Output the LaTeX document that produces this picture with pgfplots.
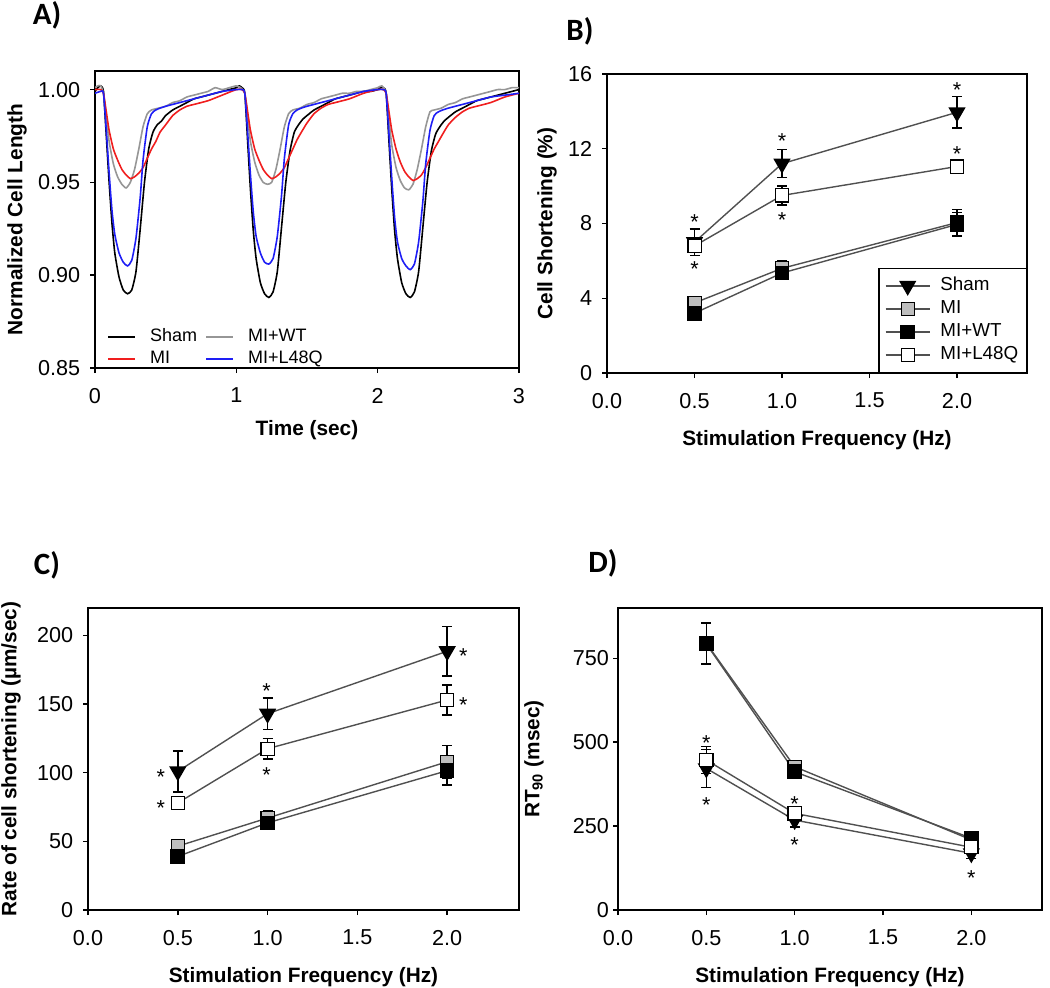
\documentclass[border=0pt]{standalone}
\usepackage{fontspec}
\setmainfont{Liberation Sans}
\newfontfamily\calib{Carlito}
\usepackage{pgfplots}
\pgfplotsset{compat=1.18}
\definecolor{mired}{RGB}{240,30,30}
\definecolor{wtgray}{RGB}{150,150,150}
\definecolor{lqblue}{RGB}{30,30,245}
\definecolor{migray}{RGB}{190,190,190}
\definecolor{conn}{RGB}{80,80,80}
\pgfplotsset{
  common/.style={
    scale only axis, anchor=south west,
    axis line style={line width=0.75pt},
    every tick/.style={black, line width=0.75pt},
    tick align=outside, major tick length=2.5pt,
    xtick pos=bottom, ytick pos=left,
    /pgf/number format/assume math mode=true,
    tick label style={font=\fontsize{10.8}{12}\selectfont},
    xticklabel style={yshift=-4pt},
    label style={font=\fontsize{10.4}{12}\selectfont\bfseries},
  },
  freq/.style={
    common, xmin=0, xmax=2.4, xtick={0,0.5,1,1.5,2},
    xticklabel style={/pgf/number format/.cd, fixed, fixed zerofill, precision=1},
    xlabel={Stimulation Frequency (Hz)},
    xlabel style={at={(axis description cs:0.5,0)}, anchor=center, yshift=-33.5pt},
    legend image code/.code={\draw[mark repeat=2,mark phase=2] plot coordinates {(0pt,0pt) (11pt,0pt) (22pt,0pt)};},
  },
  ser/.style={conn, line width=0.7pt,
    error bars/y dir=both, error bars/y explicit,
    error bars/error bar style={line width=0.75pt, black},
    error bars/error mark options={rotate=90, mark size=2.5pt, line width=0.75pt, black}},
  sham/.style={ser, mark=triangle*, mark size=4.3pt, mark options={rotate=180, fill=black, draw=black, solid}},
  mi/.style={ser, mark=square*, mark size=3.3pt, mark options={fill=migray, draw=black, line width=0.6pt}},
  miwt/.style={ser, mark=square*, mark size=3.3pt, mark options={fill=black, draw=black}},
  milq/.style={ser, mark=square*, mark size=3.3pt, mark options={fill=white, draw=black, line width=0.6pt}},
  star/.style={only marks, mark=text, text mark={*}, text mark as node=true,
    text mark style={font=\fontsize{10.8}{12}\selectfont, yshift=-2.3pt, inner sep=0pt}, black, forget plot},
}
\begin{document}
\begin{tikzpicture}
\path[use as bounding box] (0,0) rectangle (525pt,493.5pt);
\node[font=\calib\bfseries\fontsize{15.5}{16}\selectfont] at (23.5pt,486pt) {A)};
\node[font=\calib\bfseries\fontsize{15.5}{16}\selectfont] at (290pt,478pt) {B)};
\node[font=\calib\bfseries\fontsize{15.5}{16}\selectfont] at (23.5pt,211pt) {C)};
\node[font=\calib\bfseries\fontsize{15.5}{16}\selectfont] at (301.5pt,212pt) {D)};

% ---------------- Panel A ----------------
\begin{axis}[common, at={(47.5pt,309.5pt)}, width=212pt, height=148.5pt,
  xmin=0, xmax=3, ymin=0.85, ymax=1.01,
  xtick={0,1,2,3}, ytick={0.85,0.90,0.95,1.00},
  yticklabel style={/pgf/number format/.cd, fixed, fixed zerofill, precision=2, /tikz/xshift=-1.4pt},
  xlabel={Time (sec)},
  xlabel style={at={(axis description cs:0.5,0)}, anchor=center, yshift=-31pt},
  ylabel={Normalized Cell Length},
  ylabel style={at={(axis description cs:-0.184,0.5)}, anchor=center},
  legend columns=2,
  legend image code/.code={\draw[line width=0.9pt] (0pt,0pt) -- (13.5pt,0pt);},
  legend style={at={(axis description cs:0,0)}, anchor=south west, xshift=3pt, yshift=-3pt,
    draw=none, fill=none, font=\fontsize{9}{10}\selectfont,
    nodes={inner sep=1pt, text height=7pt, text depth=2pt, anchor=west},
    /tikz/every even column/.append style={column sep=3pt},
    /tikz/every odd column/.append style={column sep=6pt},
    row sep=0pt},
  every axis plot/.append style={line width=0.8pt, smooth, tension=0.35},
]
\addplot[color=black] coordinates {(0.00,0.999)(0.02,1.001)(0.04,1.002)(0.06,0.999)(0.08,0.975)(0.10,0.950)(0.12,0.928)(0.14,0.912)(0.17,0.899)(0.20,0.892)(0.23,0.890)(0.26,0.892)(0.29,0.902)(0.32,0.925)(0.35,0.950)(0.38,0.968)(0.41,0.977)(0.44,0.981)(0.47,0.983)(0.50,0.986)(0.55,0.989)(0.60,0.991)(0.65,0.993)(0.70,0.995)(0.75,0.996)(0.80,0.997)(0.85,0.998)(0.90,0.999)(0.95,1.000)(1.00,1.001)(1.02,1.002)(1.04,1.001)
(1.06,0.998)(1.08,0.972)(1.10,0.946)(1.12,0.924)(1.14,0.909)(1.17,0.896)(1.20,0.890)(1.23,0.888)(1.26,0.891)(1.29,0.902)(1.32,0.926)(1.35,0.950)(1.38,0.967)(1.41,0.977)(1.44,0.981)(1.47,0.984)(1.50,0.986)(1.55,0.989)(1.60,0.991)(1.65,0.993)(1.70,0.995)(1.75,0.996)(1.80,0.997)(1.85,0.998)(1.90,0.999)(1.95,0.999)(2.00,1.000)(2.02,1.001)(2.04,1.001)
(2.06,0.998)(2.08,0.972)(2.10,0.946)(2.12,0.924)(2.14,0.909)(2.17,0.896)(2.20,0.890)(2.23,0.888)(2.26,0.891)(2.29,0.902)(2.32,0.926)(2.35,0.950)(2.38,0.967)(2.41,0.976)(2.44,0.980)(2.47,0.983)(2.50,0.985)(2.55,0.988)(2.60,0.990)(2.65,0.992)(2.70,0.994)(2.75,0.995)(2.80,0.996)(2.85,0.997)(2.90,0.998)(2.95,0.999)(3.00,1.000)};
\addlegendentry{Sham}
\addplot[color=wtgray] coordinates {(0.00,1.001)(0.02,1.002)(0.04,1.002)(0.06,0.998)(0.08,0.985)(0.10,0.972)(0.13,0.960)(0.16,0.953)(0.19,0.949)(0.22,0.947)(0.25,0.950)(0.28,0.957)(0.31,0.968)(0.34,0.980)(0.37,0.987)(0.40,0.989)(0.45,0.990)(0.50,0.991)(0.55,0.993)(0.60,0.994)(0.65,0.996)(0.70,0.997)(0.75,0.998)(0.80,0.999)(0.85,1.001)(0.90,1.000)(0.95,1.001)(1.00,1.002)(1.03,1.001)
(1.06,0.998)(1.08,0.985)(1.10,0.972)(1.13,0.961)(1.16,0.954)(1.19,0.950)(1.22,0.949)(1.25,0.950)(1.28,0.957)(1.31,0.968)(1.34,0.980)(1.37,0.987)(1.40,0.989)(1.45,0.990)(1.50,0.992)(1.55,0.993)(1.60,0.995)(1.65,0.996)(1.70,0.997)(1.75,0.998)(1.80,0.998)(1.85,0.999)(1.90,0.999)(1.95,1.000)(2.00,1.001)(2.03,1.002)
(2.06,0.998)(2.08,0.984)(2.10,0.970)(2.13,0.958)(2.16,0.951)(2.19,0.947)(2.22,0.946)(2.25,0.949)(2.28,0.957)(2.31,0.968)(2.34,0.980)(2.37,0.988)(2.40,0.989)(2.45,0.990)(2.50,0.992)(2.55,0.993)(2.60,0.995)(2.65,0.996)(2.70,0.997)(2.75,0.998)(2.80,0.999)(2.85,1.000)(2.90,1.000)(2.95,1.001)(3.00,1.001)};
\addlegendentry{MI+WT}
\addplot[color=mired] coordinates {(0.00,1.000)(0.04,1.000)(0.06,0.998)(0.08,0.988)(0.10,0.978)(0.13,0.968)(0.16,0.962)(0.19,0.957)(0.22,0.954)(0.25,0.952)(0.28,0.953)(0.31,0.955)(0.34,0.958)(0.37,0.963)(0.40,0.968)(0.43,0.972)(0.46,0.977)(0.50,0.981)(0.55,0.986)(0.60,0.989)(0.65,0.991)(0.70,0.992)(0.80,0.994)(0.90,0.997)(1.00,1.000)(1.04,1.000)
(1.06,0.998)(1.08,0.988)(1.10,0.978)(1.13,0.968)(1.16,0.962)(1.19,0.957)(1.22,0.954)(1.25,0.952)(1.28,0.953)(1.31,0.955)(1.34,0.958)(1.37,0.963)(1.40,0.968)(1.43,0.973)(1.46,0.977)(1.50,0.982)(1.55,0.987)(1.60,0.990)(1.65,0.992)(1.70,0.993)(1.80,0.995)(1.90,0.998)(2.00,1.000)(2.04,1.000)
(2.06,0.998)(2.08,0.988)(2.10,0.978)(2.13,0.968)(2.16,0.961)(2.19,0.956)(2.22,0.953)(2.25,0.951)(2.28,0.952)(2.31,0.954)(2.34,0.958)(2.37,0.963)(2.40,0.968)(2.43,0.972)(2.46,0.976)(2.50,0.981)(2.55,0.985)(2.60,0.988)(2.65,0.990)(2.70,0.991)(2.80,0.993)(2.90,0.996)(3.00,0.998)};
\addlegendentry{MI}
\addplot[color=lqblue] coordinates {(0.00,0.998)(0.04,0.999)(0.06,0.998)(0.08,0.978)(0.10,0.955)(0.12,0.935)(0.14,0.922)(0.17,0.912)(0.20,0.907)(0.23,0.905)(0.26,0.908)(0.29,0.920)(0.32,0.942)(0.34,0.962)(0.37,0.980)(0.40,0.987)(0.43,0.989)(0.46,0.990)(0.50,0.991)(0.60,0.993)(0.70,0.995)(0.80,0.997)(0.90,0.999)(1.00,1.000)(1.04,1.000)
(1.06,0.998)(1.08,0.977)(1.10,0.954)(1.12,0.934)(1.14,0.921)(1.17,0.912)(1.20,0.907)(1.23,0.906)(1.26,0.909)(1.29,0.921)(1.32,0.943)(1.34,0.963)(1.37,0.981)(1.40,0.987)(1.43,0.989)(1.46,0.990)(1.50,0.991)(1.60,0.993)(1.70,0.995)(1.80,0.997)(1.90,0.999)(2.00,1.000)(2.04,1.000)
(2.06,0.998)(2.08,0.976)(2.10,0.952)(2.12,0.931)(2.14,0.918)(2.17,0.909)(2.20,0.905)(2.23,0.903)(2.26,0.906)(2.29,0.918)(2.32,0.940)(2.34,0.960)(2.37,0.978)(2.40,0.986)(2.43,0.988)(2.46,0.989)(2.50,0.990)(2.60,0.992)(2.70,0.994)(2.80,0.996)(2.90,0.997)(3.00,0.998)};
\addlegendentry{MI+L48Q}
\end{axis}

% ---------------- Panel B ----------------
\begin{axis}[freq, at={(303.5pt,307pt)}, width=210pt, height=149.5pt,
  ymin=0, ymax=16, ytick={0,4,8,12,16},
  yticklabel style={xshift=-1.4pt},
  ylabel={Cell Shortening (\%)},
  ylabel style={at={(axis description cs:-0.143,0.5)}, anchor=center},
  legend style={at={(1,0)}, anchor=south east, draw=black, line width=0.75pt,
    font=\fontsize{9.4}{10}\selectfont, inner xsep=3pt, inner ysep=3.2pt,
    nodes={inner sep=1pt, text height=7pt, text depth=2pt, anchor=west},
    /tikz/every odd column/.append style={column sep=4pt},
    row sep=0.5pt},
]
\addplot[sham] coordinates {(0.5,7.0) +- (0,0.7) (1.0,11.2) +- (0,0.75) (2.0,13.95) +- (0,0.85)};
\addplot[mi] coordinates {(0.5,3.75) +- (0,0.3) (1.0,5.6) +- (0,0.4) (2.0,8.05) +- (0,0.7)};
\addplot[miwt] coordinates {(0.5,3.2) +- (0,0.2) (1.0,5.35) +- (0,0.35) (2.0,7.95) +- (0,0.65)};
\addplot[milq] coordinates {(0.5,6.8) +- (0,0.35) (1.0,9.5) +- (0,0.5) (2.0,11.05) +- (0,0.3)};
\legend{Sham,MI,MI+WT,MI+L48Q}
\addplot[star] coordinates {(0.5,8.3) (0.5,5.8) (1.0,12.66) (1.0,8.41) (2.0,15.37) (2.0,11.98)};
\end{axis}

% ---------------- Panel C ----------------
\begin{axis}[freq, at={(44pt,38.5pt)}, width=215.5pt, height=151pt,
  ymin=0, ymax=220, ytick={0,50,100,150,200},
  yticklabel style={xshift=-1.4pt},
  ylabel={Rate of cell shortening (µm/sec)},
  ylabel style={at={(axis description cs:-0.1787,0.5)}, anchor=center},
]
\addplot[sham] coordinates {(0.5,101) +- (0,15) (1.0,143) +- (0,11.5) (2.0,188.5) +- (0,18)};
\addplot[mi] coordinates {(0.5,46.5) +- (0,3) (1.0,67) +- (0,5) (2.0,108) +- (0,12)};
\addplot[miwt] coordinates {(0.5,39) +- (0,3) (1.0,63.5) +- (0,4) (2.0,101.5) +- (0,10.5)};
\addplot[milq] coordinates {(0.5,78) +- (0,4) (1.0,117.5) +- (0,7.5) (2.0,153) +- (0,11)};
\addplot[star] coordinates {(0.405,99.9) (0.405,77.6) (0.995,163) (0.995,101.8) (2.09,188) (2.09,153)};
\end{axis}

% ---------------- Panel D ----------------
\begin{axis}[freq, at={(309pt,38.5pt)}, width=212pt, height=151pt,
  ymin=0, ymax=900, ytick={0,250,500,750},
  yticklabel style={xshift=1.5pt},
  ylabel={RT\textsubscript{90} (msec)},
  ylabel style={at={(axis description cs:-0.198,0.5)}, anchor=center},
]
\addplot[sham] coordinates {(0.5,422) +- (0,57) (1.0,268) +- (0,20) (2.0,169) +- (0,15)};
\addplot[mi] coordinates {(0.5,795) +- (0,60) (1.0,427) +- (0,15) (2.0,209) +- (0,10)};
\addplot[miwt] coordinates {(0.5,793) +- (0,62) (1.0,412) +- (0,15) (2.0,214) +- (0,10)};
\addplot[milq] coordinates {(0.5,447) +- (0,40) (1.0,288) +- (0,15) (2.0,187) +- (0,10)};
\addplot[star] coordinates {(0.5,511.6) (0.5,325.8) (1.0,329.8) (1.0,206.6) (2.0,109.3)};
\end{axis}
\end{tikzpicture}
\end{document}
